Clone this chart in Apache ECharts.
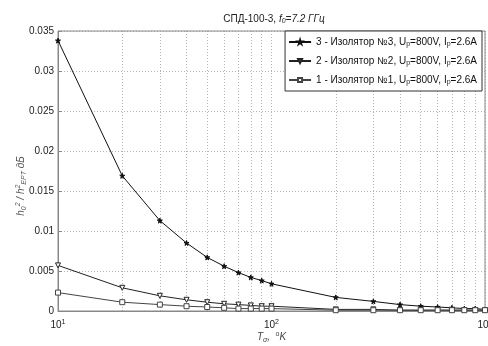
<!DOCTYPE html>
<html>
<head>
<meta charset="utf-8">
<script src="https://cdn.jsdelivr.net/npm/echarts@6/dist/echarts.min.js"></script>
<style>
  html, body { margin: 0; padding: 0; background: #fff; }
  #chart { width: 488px; height: 346px; }
</style>
</head>
<body>
<div id="chart"></div>
<script>
// temperature points, K
const temps = [10, 20, 30, 40, 50, 60, 70, 80, 90, 100, 200, 300, 400, 500, 600, 700, 800, 900, 1000];
// h0^2 / h^2 EPT
const iso3 = [0.0338, 0.0169, 0.0113, 0.0085, 0.0067, 0.0056, 0.0048, 0.0042, 0.0038, 0.0034,
  0.0017, 0.0012, 0.0008, 0.0006, 0.0005, 0.0004, 0.0003, 0.0003, 0.0002];
const iso2 = [0.0057, 0.0029, 0.0019, 0.0014, 0.0011, 0.0009, 0.0008, 0.0007, 0.0006, 0.0006,
  0.0002, 0.0002, 0.0001, 0.0001, 0.0001, 0.0001, 0.0001, 0.0001, 0.0001];
const iso1 = [0.0023, 0.0011, 0.0008, 0.0006, 0.0005, 0.0004, 0.0003, 0.0003, 0.0003, 0.0003,
  0.0001, 0.0001, 0.0001, 0.0001, 0.0001, 0.0001, 0.0001, 0.0001, 0.0001];
const minorTicks = [20, 30, 40, 50, 60, 70, 80, 90, 200, 300, 400, 500, 600, 700, 800, 900];
const names = ['3', '2', '1'];

const font = 'Liberation Sans, Arial, sans-serif';
const star = 'path://M50,0 L61,35 L98,35 L68,57 L79,91 L50,70 L21,91 L32,57 L2,35 L39,35 Z';

const chart = echarts.init(document.getElementById('chart'));

const pair = (arr) => temps.map((t, i) => [t, arr[i]]);

const series = [
  { name: '3', data: pair(iso3), symbol: star, symbolSize: 5, color: '#111', fill: '#111' },
  { name: '2', data: pair(iso2), symbol: 'triangle', symbolRotate: 180, symbolSize: 5, color: '#222', fill: '#fff' },
  { name: '1', data: pair(iso1), symbol: 'rect', symbolSize: 5, color: '#444', fill: '#fff' }
].map((s, i) => ({
  name: s.name,
  type: 'line',
  data: s.data,
  symbol: s.symbol,
  symbolRotate: s.symbolRotate || 0,
  symbolSize: s.symbolSize,
  showAllSymbol: true,
  lineStyle: { color: s.color, width: 1 },
  itemStyle: { color: s.fill, borderColor: s.color, borderWidth: 1 },
  z: 5,
  markLine: i === 0 ? {
    silent: true,
    symbol: 'none',
    label: { show: false },
    lineStyle: { type: [1, 2], color: '#b5b5b5', width: 1 },
    z: 1,
    data: minorTicks.map((v) => ({ xAxis: v }))
  } : undefined
}));

const sub = { fontSize: 7, padding: [0, 0, -5, 0], fontFamily: font, color: '#222' };

chart.setOption({
  animation: false,
  backgroundColor: '#fff',
  title: {
    text: 'СПД-100-3, {i|f}{s|0}{i|=7.2 ГГц}',
    left: 269,
    top: 9,
    textAlign: 'center',
    textStyle: {
      fontFamily: font, fontSize: 10, fontWeight: 'normal', color: '#222',
      rich: {
        i: { fontFamily: font, fontSize: 10, fontStyle: 'italic', color: '#222' },
        s: { fontFamily: font, fontSize: 7, fontStyle: 'italic', color: '#222', padding: [0, 0, -5, 0] }
      }
    }
  },
  legend: {
    orient: 'vertical',
    right: 6,
    top: 31,
    itemWidth: 22,
    itemHeight: 5,
    itemGap: 8,
    padding: [6, 5, 5, 3],
    borderColor: '#333',
    borderWidth: 1,
    backgroundColor: '#fff',
    data: names,
    formatter: (n) => n + ' - Изолятор №' + n + ', U{s|p}=800V, I{s|p}=2.6A',
    textStyle: {
      fontFamily: font, fontSize: 10, color: '#111',
      rich: { s: sub }
    }
  },
  grid: {
    left: 58, right: 3, top: 31, bottom: 35,
    outerBoundsMode: 'none',
    containLabel: false,
    show: true, borderColor: '#888', borderWidth: 1, z: 3
  },
  xAxis: {
    type: 'log',
    logBase: 10,
    min: 10,
    max: 1000,
    name: '{i|T}{s|σ}{i|,  }{u|o}{i|K}',
    nameLocation: 'middle',
    nameGap: 20,
    nameMoveOverlap: false,
    nameTextStyle: {
      fontFamily: font, color: '#444',
      rich: {
        i: { fontFamily: font, fontSize: 10, fontStyle: 'italic', color: '#444' },
        s: { fontFamily: font, fontSize: 7, fontStyle: 'italic', color: '#444', padding: [0, 0, -5, 0] },
        u: { fontFamily: font, fontSize: 7, color: '#444', padding: [0, 0, 6, 0] }
      }
    },
    axisLine: { lineStyle: { color: '#888' } },
    axisTick: { inside: true, length: 4, lineStyle: { color: '#888' } },
    axisLabel: {
      color: '#222',
      margin: 8,
      formatter: (v) => '{b|10}{e|' + Math.round(Math.log10(v)) + '}',
      rich: {
        b: { fontFamily: font, fontSize: 10, color: '#222' },
        e: { fontFamily: font, fontSize: 7, color: '#222', padding: [0, 0, 6, 0] }
      }
    },
    splitLine: { show: true, lineStyle: { type: [1, 2], color: '#b5b5b5' } }
  },
  yAxis: {
    type: 'value',
    min: 0,
    max: 0.035,
    interval: 0.005,
    name: '{i|h}{s|0}{u|2}{i| / h}{u|2}{s|EPT}{i| дБ}',
    nameLocation: 'middle',
    nameGap: 30,
    nameRotate: 90,
    nameMoveOverlap: false,
    nameTextStyle: {
      color: '#555',
      padding: [0, 0, 0, -30],
      rich: {
        i: { fontFamily: font, fontSize: 10, fontStyle: 'italic', color: '#555' },
        s: { fontFamily: font, fontSize: 7, fontStyle: 'italic', color: '#555', padding: [0, 0, -5, 0] },
        u: { fontFamily: font, fontSize: 7, fontStyle: 'italic', color: '#555', padding: [0, 0, 6, 0] }
      }
    },
    axisLine: { show: true, lineStyle: { color: '#888' } },
    axisTick: { show: true, inside: true, length: 4, lineStyle: { color: '#888' } },
    axisLabel: { fontFamily: font, fontSize: 10, color: '#222', margin: 4 },
    splitLine: { show: true, lineStyle: { type: [1, 2], color: '#b5b5b5' } }
  },
  series: series
});
</script>
</body>
</html>
